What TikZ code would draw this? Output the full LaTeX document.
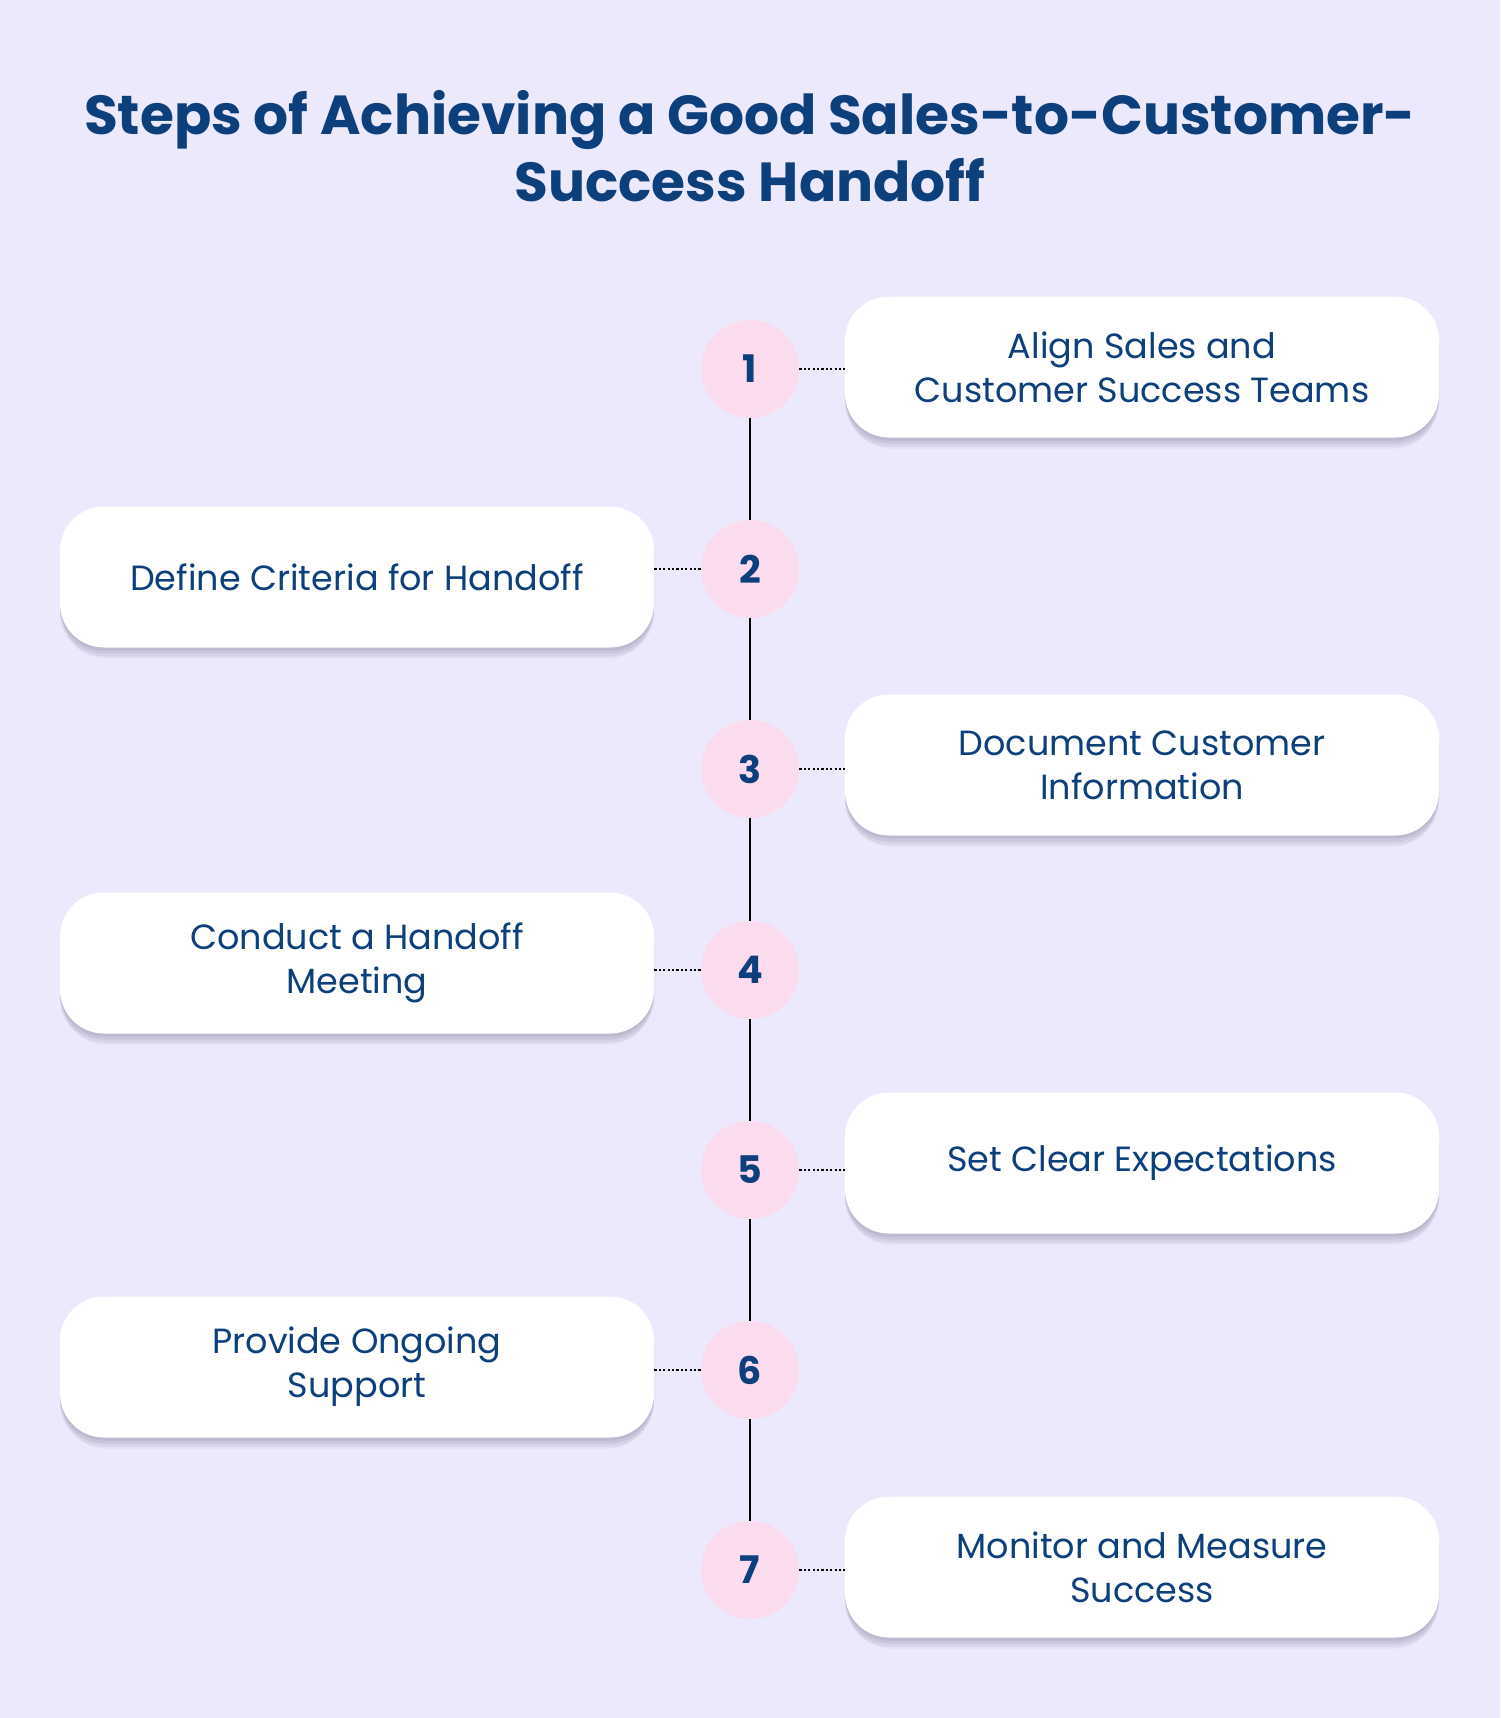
\documentclass[tikz,border=0pt]{standalone}
\usepackage{fontspec}
\setmainfont{Poppins}
\usetikzlibrary{shadows}
\definecolor{bgc}{HTML}{EDE9FD}
\definecolor{navy}{HTML}{0C3F7B}
\definecolor{pinkc}{HTML}{FBDCEF}
\definecolor{shadc}{HTML}{7E7A93}
\begin{document}
\begin{tikzpicture}[x=0.5pt,y=-0.5pt,
  num/.style={circle,fill=pinkc,minimum size=49pt,inner sep=0pt,text=navy,font=\fontsize{19}{24}\selectfont\bfseries},
  softshadow/.style={
     general shadow={shadow xshift=0pt,shadow yshift=-1.5pt,opacity=0.15,fill=shadc},
     general shadow={shadow xshift=0pt,shadow yshift=-3pt,opacity=0.15,fill=shadc},
     general shadow={shadow xshift=0pt,shadow yshift=-4.5pt,opacity=0.12,fill=shadc},
     general shadow={shadow xshift=0pt,shadow yshift=-6pt,shadow scale=0.99,opacity=0.08,fill=shadc}},
  card/.style={rounded corners=22pt,fill=white,minimum width=297pt,minimum height=70.5pt,text=navy,align=center,
     font=\fontsize{17.5}{22}\selectfont, softshadow},
  link/.style={dash pattern=on 1.1pt off 1.1pt,line width=1.1pt,black},
  spine/.style={line width=1pt,black}]
\fill[bgc] (0,0) rectangle (1500,1718);
\useasboundingbox (0,0) rectangle (1500,1718);
\node[text=navy,align=center,font=\fontsize{27.5}{33.5}\selectfont\bfseries] (title) at (750,146)
  {Steps of Achieving a Good Sales-to-Customer-\\Success Handoff};
\foreach \i/\y in {1/369,2/569,3/769,4/970,5/1170,6/1370,7/1570}{
  \node[num] (c\i) at (750,\y) {\i};
}
\node[card] (b1) at (1142,367) {Align Sales and\\Customer Success Teams};
\node[card] (b2) at (357,577) {Define Criteria for Handoff};
\node[card] (b3) at (1142,765) {Document Customer\\Information};
\node[card] (b4) at (357,963) {Conduct a Handoff\\Meeting};
\node[card] (b5) at (1142,1163) {Set Clear Expectations};
\node[card] (b6) at (357,1367) {Provide Ongoing\\Support};
\node[card] (b7) at (1142,1567) {Monitor and Measure\\Success};
\foreach \a/\b in {1/2,2/3,3/4,4/5,5/6,6/7}{
  \draw[spine] (c\a.south) -- (c\b.north);
}
\foreach \i in {1,3,5,7}{
  \draw[link] (c\i.east) -- (b\i.west |- c\i.east);
}
\foreach \i in {2,4,6}{
  \draw[link] (c\i.west) -- (b\i.east |- c\i.west);
}
\end{tikzpicture}
\end{document}
